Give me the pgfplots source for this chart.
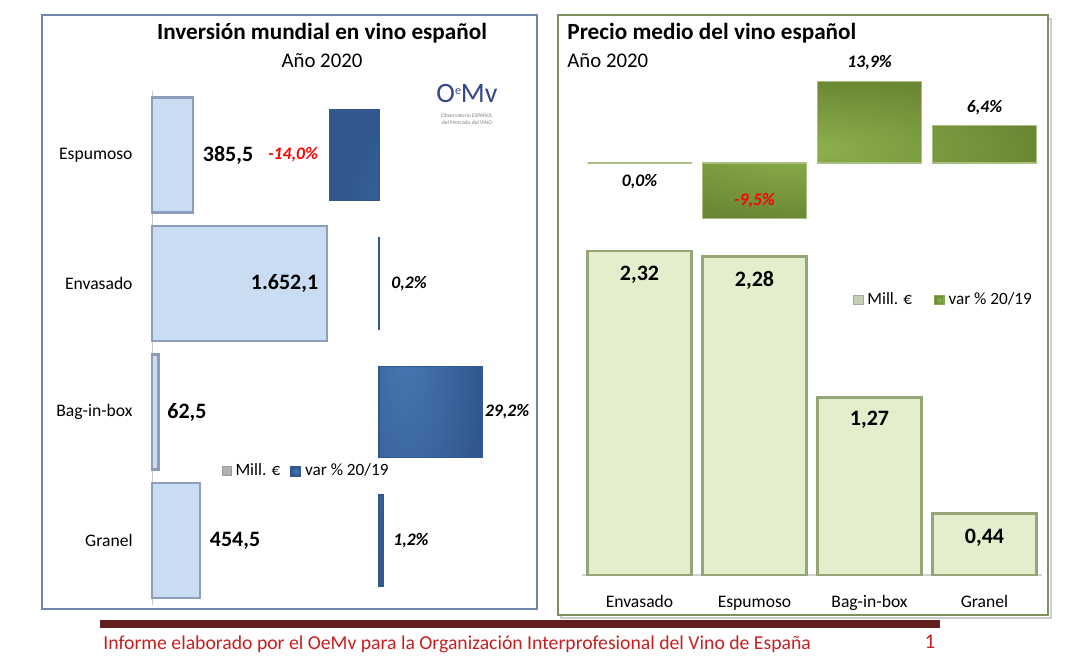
\documentclass[border=0pt]{standalone}
\usepackage{pgfplots}
\pgfplotsset{compat=1.18}
\usepackage{pgfplotstable}
\usepackage{fontspec}
\setmainfont{Carlito}
\definecolor{lbfill}{RGB}{202,220,242}
\definecolor{lbedge}{RGB}{140,158,188}
\definecolor{dbin}{RGB}{72,118,178}
\definecolor{dbout}{RGB}{48,88,142}
\definecolor{lgfill}{RGB}{228,238,205}
\definecolor{lgedge}{RGB}{150,165,120}
\definecolor{dgin}{RGB}{142,176,76}
\definecolor{dgout}{RGB}{106,136,52}
\definecolor{dgline}{RGB}{170,190,130}
\definecolor{bborder}{RGB}{110,135,175}
\definecolor{gborder}{RGB}{125,145,95}
\definecolor{footbar}{RGB}{100,30,30}
\definecolor{foottext}{RGB}{200,30,30}
\definecolor{logoblue}{RGB}{50,70,140}
\definecolor{negred}{RGB}{255,0,0}

\pgfplotstableread{
pos val
3 385.5
2 1652.1
1 62.5
0 454.5
}\invmill
\pgfplotstableread{
pos val
3 -14.0
2 0.2
1 29.2
0 1.2
}\invvar
\pgfplotstableread{
pos val
0 2.32
1 2.28
2 1.27
3 0.44
}\preciomill
\pgfplotstableread{
pos val
0 0.0
1 -9.5
2 13.9
3 6.4
}\preciovar

\newcommand{\valfont}{\fontsize{11}{12}\selectfont\bfseries}
\newcommand{\pctfont}{\fontsize{8.8}{10}\selectfont\bfseries\itshape}

\begin{document}
\begin{tikzpicture}
\begin{scope}[x=0.5pt,y=-0.5pt,yshift=334pt]
\useasboundingbox (0,0) rectangle (1069,668);
% panels
\draw[bborder, line width=1.2pt] (42,15) rectangle (537,609);
\draw[gray!40, line width=1pt] (561,19) rectangle (1051,618);
\draw[gborder, line width=1.2pt, fill=white] (558,15) rectangle (1048,615);
% titles
\node[font=\fontsize{11.6}{13}\selectfont\bfseries] at (322,33) {Inversión mundial en vino español};
\node[font=\fontsize{10.4}{12}\selectfont] at (322,61) {Año 2020};
\node[font=\fontsize{11.6}{13}\selectfont\bfseries, anchor=west, inner sep=0pt] at (567,33) {Precio medio del vino español};
\node[font=\fontsize{10.4}{12}\selectfont, anchor=west, inner sep=0pt] at (567,61) {Año 2020};
% logo
\node[logoblue, font=\fontsize{14}{14}\selectfont, inner sep=0pt] at (467,94) {O\raisebox{4pt}{\fontsize{6}{6}\selectfont e}Mv};
\node[gray, font=\fontsize{2.8}{3.2}\selectfont, align=center, inner sep=0pt] at (467,119) {Observatorio ESPAÑOL\\del Mercado del VINO};
% footer
\fill[footbar] (100,620) rectangle (940,628);
\node[foottext, anchor=west, inner sep=0pt, font=\fontsize{9.85}{11}\selectfont] at (103,644) {Informe elaborado por el OeMv para la Organización Interprofesional del Vino de España};
\node[foottext, inner sep=0pt, font=\fontsize{10.5}{11}\selectfont] at (930,642) {1};
\end{scope}

% ---------- Left chart: primary (Mill. EUR)
\begin{axis}[
  at={(76pt,31.625pt)}, anchor=south west,
  scale only axis, width=106pt, height=257pt,
  xmin=0, xmax=2000, ymin=-0.5, ymax=3.5,
  xbar, bar width=57.5pt, bar shift=0pt,
  axis x line=none, axis y line*=left,
  y axis line style={draw=gray!45, line width=0.5pt, -},
  ytick={0,1,2,3}, yticklabels={Granel,Bag-in-box,Envasado,Espumoso},
  major tick length=0pt,
  yticklabel style={font=\fontsize{8.8}{10}\selectfont, xshift=-6.2pt},
  clip=false,
]
\addplot[xbar, fill=lbfill, draw=lbedge, line width=1.2pt] table[x=val,y=pos] {\invmill};
\node[font=\valfont] at (axis cs:717,3) {385,5};
\node[font=\valfont] at (axis cs:1250,2) {1.652,1};
\node[font=\valfont] at (axis cs:330,1) {62,5};
\node[font=\valfont] at (axis cs:783,0) {454,5};
\end{axis}

% ---------- Left chart: secondary (var %)
\begin{axis}[
  at={(154pt,31.625pt)}, anchor=south west,
  scale only axis, width=97.6pt, height=257pt,
  xmin=-20, xmax=35, ymin=-0.5, ymax=3.5,
  xbar, bar width=45.5pt, bar shift=0pt,
  axis lines=none, clip=false,
  legend style={draw=none, fill=none, legend columns=2, at={(-0.445,0.26)}, anchor=west,
    font=\fontsize{8.6}{10}\selectfont, inner sep=0pt,
    /tikz/every even column/.append style={column sep=3pt}},
  legend cell align=left,
]
\addlegendimage{legend image code/.code={\fill[gray!60, draw=gray!80] (0pt,-2.3pt) rectangle (4.6pt,2.3pt);}}
\addlegendentry{Mill. €}
\addplot[xbar, shading=radial, inner color=dbin, outer color=dbout, draw=dbout, line width=0.8pt,
  legend image code/.code={\fill[dbout] (0pt,-2.3pt) rectangle (4.6pt,2.3pt);}] table[x=val,y=pos] {\invvar};
\addlegendentry{var \% 20/19}
\node[font=\pctfont, text=negred] at (axis cs:-24.2,3) {-14,0\%};
\node[font=\pctfont] at (axis cs:8.45,2) {0,2\%};
\node[font=\pctfont] at (axis cs:36.1,1) {29,2\%};
\node[font=\pctfont] at (axis cs:9.0,0) {1,2\%};
\end{axis}

% ---------- Right chart: primary (price)
\begin{axis}[
  at={(291pt,46.5pt)}, anchor=south west,
  scale only axis, width=230pt, height=181.6pt,
  xmin=-0.5, xmax=3.5, ymin=0, ymax=2.6,
  ybar, bar width=52pt, bar shift=0pt,
  axis y line=none, axis x line*=bottom,
  x axis line style={draw=gray!35, line width=0.6pt, -},
  xtick={0,1,2,3}, xticklabels={Envasado,Espumoso,Bag-in-box,Granel},
  major tick length=0pt,
  xticklabel style={font=\fontsize{8.8}{10}\selectfont, yshift=-5pt, text height=1.6ex, text depth=0.4ex},
  clip=false,
]
\addplot[ybar, fill=lgfill, draw=lgedge, line width=1.2pt] table[x=pos,y=val] {\preciomill};
\node[font=\valfont] at (axis cs:0,2.32) [yshift=-12pt] {2,32};
\node[font=\valfont] at (axis cs:1,2.28) [yshift=-12pt] {2,28};
\node[font=\valfont] at (axis cs:2,1.27) [yshift=-11pt] {1,27};
\node[font=\valfont] at (axis cs:3,0.44) [yshift=-12pt] {0,44};
\end{axis}

% ---------- Right chart: secondary (var %)
\begin{axis}[
  at={(291pt,208.4pt)}, anchor=south west,
  scale only axis, width=230pt, height=102.9pt,
  xmin=-0.5, xmax=3.5, ymin=-15, ymax=20,
  ybar, bar width=52pt, bar shift=0pt,
  axis lines=none, clip=false,
  legend style={draw=none, fill=none, legend columns=2, at={(0.589,-0.237)}, anchor=west,
    font=\fontsize{8.6}{10}\selectfont, inner sep=0pt,
    /tikz/every even column/.append style={column sep=9pt}},
  legend cell align=left,
]
\addlegendimage{legend image code/.code={\fill[lgfill!70!gray, draw=gray!70] (0pt,-2.3pt) rectangle (4.6pt,2.3pt);}}
\addlegendentry{Mill. €}
\addplot[ybar, shading=radial, inner color=dgin, outer color=dgout, draw=dgline, line width=0.6pt,
  legend image code/.code={\fill[dgin!80!dgout] (0pt,-2.3pt) rectangle (4.6pt,2.3pt);}] table[x=pos,y=val] {\preciovar};
\addlegendentry{var \% 20/19}
\node[font=\pctfont] at (axis cs:0,-3.23) {0,0\%};
\node[font=\pctfont, text=negred] at (axis cs:1,-6.46) {-9,5\%};
\node[font=\pctfont] at (axis cs:2,17.0) {13,9\%};
\node[font=\pctfont] at (axis cs:3,9.35) {6,4\%};
\end{axis}
\end{tikzpicture}
\end{document}
